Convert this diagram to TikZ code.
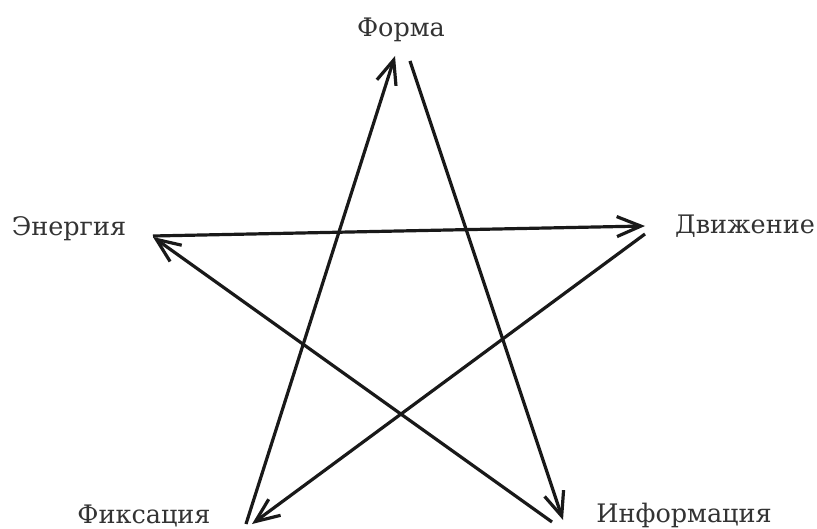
\documentclass[tikz,border=0pt]{standalone}
\usepackage{fontspec}
\setmainfont{DejaVu Serif}
\usetikzlibrary{arrows.meta}
\begin{document}
\begin{tikzpicture}[x=1pt,y=-1pt,
  lbl/.style={anchor=base,font=\fontsize{25.5}{30}\selectfont,text=black!80,inner sep=0pt},
  conn/.style={line width=3.2pt,draw=black!90,-{Straight Barb[length=24pt,width=20pt,line width=3.2pt]}}]
\useasboundingbox (0,0) rectangle (817,529);
\node[lbl] (f) at (401,37) {Форма};
\node[lbl] (e) at (69,236) {Энергия};
\node[lbl] (d) at (745,234) {Движение};
\node[lbl] (fi) at (144,523) {Фиксация};
\node[lbl] (inf) at (684,522) {Информация};
\coordinate (fIn) at (395,56);
\coordinate (fOut) at (410,61);
\coordinate (eIn) at (153,237);
\coordinate (eOut) at (153,236);
\coordinate (dIn) at (645,226);
\coordinate (dOut) at (645,234);
\coordinate (fiIn) at (252,524);
\coordinate (fiOut) at (246,524);
\coordinate (infIn) at (563,520);
\coordinate (infOut) at (552,522);
\draw[conn] (fiOut) -- (fIn);
\draw[conn] (fOut) -- (infIn);
\draw[conn] (infOut) -- (eIn);
\draw[conn] (eOut) -- (dIn);
\draw[conn] (dOut) -- (fiIn);
\end{tikzpicture}
\end{document}
